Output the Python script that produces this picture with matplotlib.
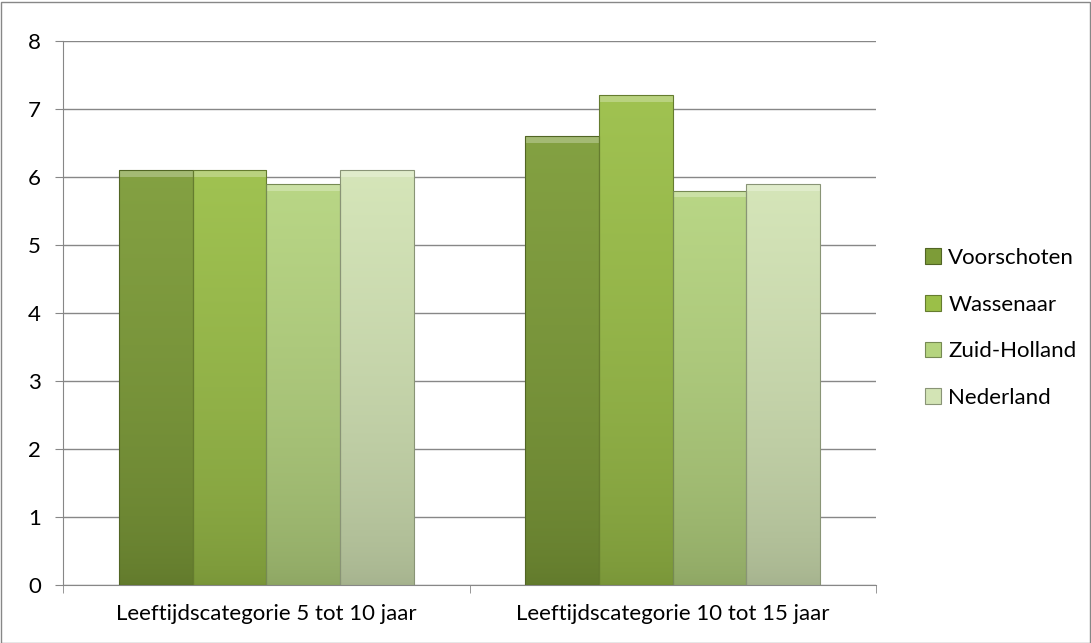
import numpy as np
import matplotlib.pyplot as plt
from matplotlib.patches import Rectangle

categories = ['Leeftijdscategorie 5 tot 10 jaar', 'Leeftijdscategorie 10 tot 15 jaar']
series = ['Voorschoten', 'Wassenaar', 'Zuid-Holland', 'Nederland']
values = {
    'Voorschoten': [6.1, 6.6],
    'Wassenaar': [6.1, 7.2],
    'Zuid-Holland': [5.9, 5.8],
    'Nederland': [6.1, 5.9],
}
colors = ['#7d9c38', '#9bbf48', '#b5d47f', '#d3e4b5']
yticks = [0, 1, 2, 3, 4, 5, 6, 7, 8]

plt.rcParams['font.family'] = ['Lato', 'DejaVu Sans']

fig = plt.figure(figsize=(10.91, 6.43), dpi=100)
ax = fig.add_axes([63 / 1091, 1 - 585 / 643, 813 / 1091, 544 / 643])

x = np.arange(len(categories))
width = 0.1814


def shade(c, f):
    c = np.array(plt.matplotlib.colors.to_rgb(c))
    if f > 0:
        return c + (1 - c) * f
    return c * (1 + f)


for i, s in enumerate(series):
    pos = x + (i - 1.5) * width
    bars = ax.bar(pos, values[s], width, color=colors[i], edgecolor='none',
                  zorder=3, label=s)
    for b in bars:
        # vertical gradient: lighter top, darker bottom
        top = shade(colors[i], 0.05)
        bot = shade(colors[i], -0.22)
        t = np.linspace(0, 1, 256)[:, None] ** 0.6
        grad = (bot[None, :] * (1 - t) + top[None, :] * t)[:, None, :]
        im = ax.imshow(grad, extent=[b.get_x(), b.get_x() + b.get_width(), 0, b.get_height()],
                       origin='lower', aspect='auto', zorder=3.5)
        im.set_clip_path(b)
        # bevel highlight at top
        ax.add_patch(Rectangle((b.get_x(), b.get_height() - 0.1), b.get_width(), 0.1,
                               facecolor=shade(colors[i], 0.3), edgecolor='none', zorder=4))
        ax.add_patch(Rectangle((b.get_x(), 0), b.get_width(), b.get_height(),
                               facecolor='none', edgecolor=shade(colors[i], -0.35),
                               linewidth=0.8, zorder=5))

ax.set_xlim(-0.5, 1.5)
ax.set_ylim(0, 8)
ax.set_yticks(yticks)
ax.set_xticks(x)
ax.set_xticklabels(categories)
ax.set_xticks([-0.5, 0.5, 1.5], minor=True)
ax.tick_params(axis='x', which='major', length=0, pad=14, labelsize=16)
ax.tick_params(axis='x', which='minor', length=6, color='#878787', direction='out')
ax.tick_params(axis='y', length=6, color='#878787', labelsize=16, pad=10)
ax.grid(axis='y', color='#878787', linewidth=1, zorder=0)
for side in ['top', 'right']:
    ax.spines[side].set_visible(False)
ax.spines['left'].set_color('#878787')
ax.spines['bottom'].set_color('#878787')

handles = [Rectangle((0, 0), 1, 1, facecolor=c, edgecolor=shade(c, -0.35), linewidth=0.8)
           for c in colors]
fig.legend(handles, series, loc='center left', bbox_to_anchor=(905 / 1091, 1 - 328 / 643),
           frameon=False, fontsize=16, handlelength=0.7, handleheight=0.7,
           handletextpad=0.35, labelspacing=1.2)

fig.add_artist(Rectangle((0.5 / 1091, 0.5 / 643), 1089 / 1091, 641 / 643, transform=fig.transFigure,
                         facecolor='none', edgecolor='#878787', linewidth=1))

fig.savefig('out.png', dpi=100)
